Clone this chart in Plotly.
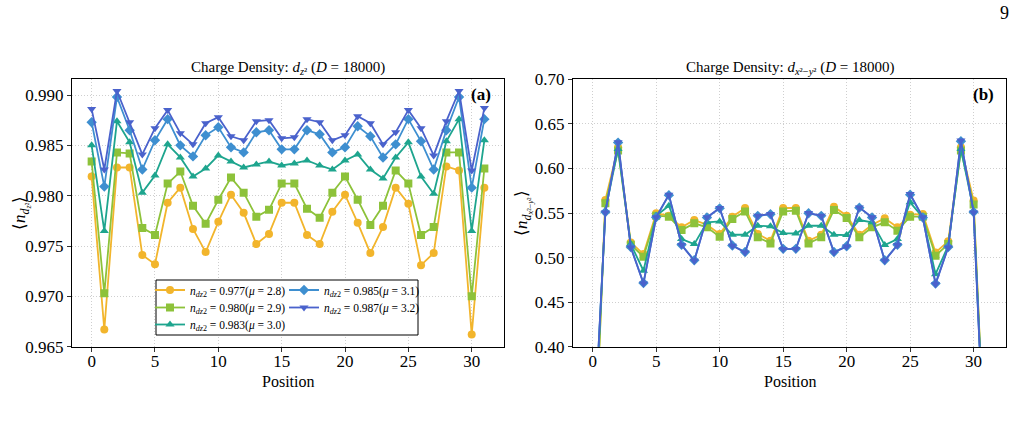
import plotly.graph_objects as go

positions = list(range(32))

# Left panel: charge density d_z2
dz2_0977 = [0.9819, 0.9667, 0.9828, 0.9828, 0.9741, 0.9732, 0.9793, 0.9808, 0.9767, 0.9744,
            0.9774, 0.9801, 0.9783, 0.9752, 0.9762, 0.9793, 0.9793, 0.9761, 0.9752, 0.9784,
            0.9801, 0.9773, 0.9743, 0.9769, 0.9808, 0.9792, 0.9731, 0.9743, 0.9829, 0.9825,
            0.9662, 0.9808]
dz2_0980 = [0.9834, 0.9703, 0.9843, 0.9842, 0.9768, 0.9761, 0.9812, 0.9824, 0.9790, 0.9772,
            0.9796, 0.9818, 0.9803, 0.9779, 0.9786, 0.9812, 0.9812, 0.9787, 0.9778, 0.9803,
            0.9819, 0.9796, 0.9771, 0.9790, 0.9825, 0.9812, 0.9761, 0.9769, 0.9843, 0.9843,
            0.9700, 0.9827]
dz2_0983 = [0.9850, 0.9765, 0.9874, 0.9853, 0.9803, 0.9820, 0.9851, 0.9838, 0.9819, 0.9827,
            0.9840, 0.9834, 0.9828, 0.9831, 0.9834, 0.9830, 0.9832, 0.9835, 0.9830, 0.9826,
            0.9835, 0.9841, 0.9826, 0.9817, 0.9838, 0.9853, 0.9819, 0.9802, 0.9854, 0.9876,
            0.9765, 0.9855]
dz2_0985 = [0.9873, 0.9809, 0.9898, 0.9865, 0.9826, 0.9855, 0.9876, 0.9850, 0.9839, 0.9860,
            0.9868, 0.9848, 0.9843, 0.9863, 0.9865, 0.9846, 0.9846, 0.9865, 0.9861, 0.9843,
            0.9848, 0.9869, 0.9859, 0.9838, 0.9851, 0.9876, 0.9854, 0.9826, 0.9865, 0.9898,
            0.9808, 0.9876]
dz2_0987 = [0.9886, 0.9826, 0.9904, 0.9873, 0.9841, 0.9867, 0.9885, 0.9862, 0.9851, 0.9872,
            0.9878, 0.9859, 0.9855, 0.9874, 0.9875, 0.9857, 0.9858, 0.9876, 0.9873, 0.9855,
            0.9860, 0.9879, 0.9872, 0.9851, 0.9863, 0.9885, 0.9867, 0.9840, 0.9874, 0.9904,
            0.9825, 0.9887]

# Right panel: charge density d_x2-y2
dx2_0977 = [0.22, 0.5646, 0.6238, 0.5170, 0.5039, 0.5496, 0.5470, 0.5339, 0.5421, 0.5369,
            0.5264, 0.5459, 0.5556, 0.5264, 0.5189, 0.5556, 0.5556, 0.5189, 0.5256, 0.5571,
            0.5470, 0.5256, 0.5369, 0.5440, 0.5339, 0.5481, 0.5489, 0.5058, 0.5182, 0.6238,
            0.5639, 0.24]
dx2_0980 = [0.22, 0.5609, 0.6200, 0.5144, 0.5009, 0.5470, 0.5459, 0.5309, 0.5384, 0.5339,
            0.5234, 0.5433, 0.5518, 0.5227, 0.5159, 0.5518, 0.5526, 0.5159, 0.5227, 0.5534,
            0.5444, 0.5227, 0.5339, 0.5395, 0.5302, 0.5459, 0.5459, 0.5021, 0.5151, 0.6200,
            0.5594, 0.24]
dx2_0983 = [0.26, 0.5526, 0.6219, 0.5151, 0.4852, 0.5470, 0.5582, 0.5208, 0.5151, 0.5395,
            0.5406, 0.5256, 0.5256, 0.5357, 0.5350, 0.5275, 0.5270, 0.5357, 0.5357, 0.5256,
            0.5252, 0.5421, 0.5395, 0.5140, 0.5208, 0.5620, 0.5451, 0.4814, 0.5133, 0.6219,
            0.5526, 0.24]
dx2_0985 = [0.27, 0.5510, 0.6290, 0.5118, 0.4715, 0.5453, 0.5700, 0.5143, 0.4970, 0.5450,
            0.5552, 0.5136, 0.5062, 0.5468, 0.5486, 0.5098, 0.5098, 0.5497, 0.5468, 0.5062,
            0.5127, 0.5560, 0.5450, 0.4970, 0.5143, 0.5706, 0.5450, 0.4708, 0.5118, 0.6305,
            0.5510, 0.23]
dx2_0987 = [0.27, 0.5507, 0.6294, 0.5114, 0.4709, 0.5451, 0.5706, 0.5140, 0.4964, 0.5451,
            0.5556, 0.5133, 0.5058, 0.5470, 0.5489, 0.5095, 0.5095, 0.5500, 0.5470, 0.5058,
            0.5125, 0.5563, 0.5451, 0.4964, 0.5140, 0.5713, 0.5451, 0.4702, 0.5114, 0.6312,
            0.5507, 0.23]

series_names = [
    "<i>n</i><sub><i>dz</i>2</sub> = 0.977(<i>μ</i> = 2.8)",
    "<i>n</i><sub><i>dz</i>2</sub> = 0.980(<i>μ</i> = 2.9)",
    "<i>n</i><sub><i>dz</i>2</sub> = 0.983(<i>μ</i> = 3.0)",
    "<i>n</i><sub><i>dz</i>2</sub> = 0.985(<i>μ</i> = 3.1)",
    "<i>n</i><sub><i>dz</i>2</sub> = 0.987(<i>μ</i> = 3.2)",
]
colors = ["#f2b52c", "#8dc23a", "#1ea58e", "#3e8fd0", "#4a62cc"]
symbols = ["circle", "square", "triangle-up", "diamond", "triangle-down"]
left_data = [dz2_0977, dz2_0980, dz2_0983, dz2_0985, dz2_0987]
right_data = [dx2_0977, dx2_0980, dx2_0983, dx2_0985, dx2_0987]
legend_ids = ["legend", "legend2", "legend3", "legend4", "legend5"]
# legend entry placement (pixels): column-major, 3 rows then 2
legend_px = [(150, 290), (150, 307.5), (150, 324.5), (284, 290), (284, 307.5)]

FONT = "Liberation Serif, Times New Roman, serif"
W, H = 1020, 425

def px(x):
    return x / W

def py(y):
    return 1 - y / H

fig = go.Figure()
for i in range(5):
    fig.add_trace(go.Scatter(
        x=positions, y=left_data[i], mode="lines+markers", name=series_names[i],
        line=dict(color=colors[i], width=1.8),
        marker=dict(symbol=symbols[i], size=8, color=colors[i]),
        xaxis="x", yaxis="y", legend=legend_ids[i], showlegend=True))
for i in range(5):
    fig.add_trace(go.Scatter(
        x=positions, y=right_data[i], mode="lines+markers", name=series_names[i],
        line=dict(color=colors[i], width=1.8),
        marker=dict(symbol=symbols[i], size=8, color=colors[i]),
        xaxis="x2", yaxis="y2", showlegend=False))

axis_common = dict(
    showline=True, linecolor="black", linewidth=1.3, mirror=True,
    ticks="outside", ticklen=4, tickwidth=1.2, tickcolor="#333",
    showgrid=True, gridcolor="#cfcfcf", griddash="1px,2px", gridwidth=0.9,
    zeroline=False, automargin=False,
    tickfont=dict(family=FONT, size=17, color="black"),
)

fig.update_layout(
    template="none",
    width=W, height=H,
    margin=dict(l=0, r=0, t=0, b=0, pad=0),
    paper_bgcolor="white", plot_bgcolor="white",
    font=dict(family=FONT, color="black"),
    xaxis=dict(domain=[px(72), px(504)], range=[-1.55, 32.55], tickvals=[0, 5, 10, 15, 20, 25, 30],
               anchor="y", ticklabelstandoff=-5, **axis_common),
    yaxis=dict(domain=[py(346.7), py(79.3)], range=[0.965, 0.99156],
               tickvals=[0.965, 0.970, 0.975, 0.980, 0.985, 0.990], tickformat=".3f",
               anchor="x", **axis_common),
    xaxis2=dict(domain=[px(573), px(1006)], range=[-1.55, 32.55], tickvals=[0, 5, 10, 15, 20, 25, 30],
                anchor="y2", ticklabelstandoff=-5, **axis_common),
    yaxis2=dict(domain=[py(346.7), py(79.3)], range=[0.40, 0.70],
                tickvals=[0.40, 0.45, 0.50, 0.55, 0.60, 0.65, 0.70], tickformat=".2f",
                anchor="x2", **axis_common),
    showlegend=True,
)

for lid, (lx, ly) in zip(legend_ids, legend_px):
    fig.update_layout({lid: dict(x=px(lx), y=py(ly), xanchor="left", yanchor="middle",
                                 bgcolor="rgba(0,0,0,0)", borderwidth=0, tracegroupgap=0,
                                 font=dict(family=FONT, size=11.5, color="black"), itemwidth=30)})

fig.add_shape(type="rect", xref="paper", yref="paper",
              x0=px(156), x1=px(418), y0=py(335), y1=py(280),
              line=dict(color="black", width=1), fillcolor="white", layer="above")

annotations = [
    dict(x=px(288), y=py(68), text="Charge Density: <i>d</i><sub><i>z</i>²</sub> (<i>D</i> = 18000)",
         font=dict(size=15)),
    dict(x=px(790), y=py(68), text="Charge Density: <i>d</i><sub><i>x</i>²−<i>y</i>²</sub> (<i>D</i> = 18000)",
         font=dict(size=15)),
    dict(x=px(288), y=py(381), text="Position", font=dict(size=16)),
    dict(x=px(790), y=py(381), text="Position", font=dict(size=16)),
    dict(x=px(21), y=py(213), text="⟨<i>n</i><sub><i>d</i><sub><i>z</i>²</sub></sub>⟩", textangle=-90,
         font=dict(size=17)),
    dict(x=px(523), y=py(213), text="⟨<i>n</i><sub><i>d</i><sub><i>x</i>²−<i>y</i>²</sub></sub>⟩",
         textangle=-90, font=dict(size=17)),
    dict(x=px(481), y=py(95), text="<b>(a)</b>", font=dict(size=17)),
    dict(x=px(983), y=py(95), text="<b>(b)</b>", font=dict(size=17)),
    dict(x=px(1004), y=py(13), text="9", font=dict(size=18)),
]
for a in annotations:
    a.update(xref="paper", yref="paper", showarrow=False, xanchor="center", yanchor="middle")
    a["font"].update(family=FONT, color="black")
    fig.add_annotation(**a)

fig.write_html("out.html")
